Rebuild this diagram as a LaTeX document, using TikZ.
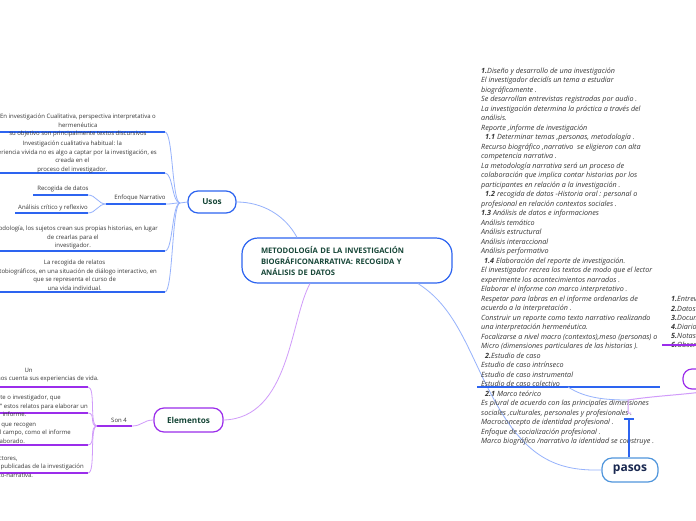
\documentclass[tikz,border=0pt]{standalone}
\usepackage{fontspec}
\setmainfont{Open Sans}
\usepackage{xcolor}
\usepackage{tikz}
\usetikzlibrary{positioning}
\definecolor{mmedge}{RGB}{45,100,240}
\definecolor{mmlink}{RGB}{150,178,252}
\definecolor{mmviolet}{RGB}{155,45,235}
\definecolor{mmlviolet}{RGB}{208,155,250}
\definecolor{mmhead}{RGB}{22,70,55}
\definecolor{mmtext}{RGB}{55,55,55}
\definecolor{mmstep}{RGB}{80,150,220}
\definecolor{mmnavy}{RGB}{25,40,80}
\tikzset{
  topic/.style={
    draw=mmedge, fill=white, line width=1.2pt, rounded corners=10pt,
    inner sep=0pt, text=mmhead, font=\fontsize{8.2}{10}\selectfont\bfseries
  },
  core/.style={
    topic, rounded corners=16pt, minimum width=210pt, minimum height=45pt,
    text width=172pt, align=left, font=\fontsize{7.6}{11}\selectfont\bfseries
  },
  leaf/.style={font=\fontsize{6}{8.5}\selectfont, text=mmtext, align=center, inner sep=0pt},
  notes/.style={font=\fontsize{7.2}{9.5}\selectfont\itshape, text=mmtext, align=left, inner sep=0pt},
  uline/.style={draw=mmedge, line width=1.4pt},
  vline/.style={draw=mmviolet, line width=1.4pt},
  link/.style={draw=mmlink, line width=0.8pt},
  vlink/.style={draw=mmlviolet, line width=0.8pt}
}
\begin{document}
\begin{tikzpicture}[x=1pt,y=-1pt]
  \useasboundingbox (0,0) rectangle (696,520);
  \fill[white] (0,0) rectangle (696,520);
  \clip (0,0) rectangle (696,520);

  % main topics
  \node[core] (core) at (347,260.5) {METODOLOGÍA DE LA INVESTIGACIÓN\\BIOGRÁFICONARRATIVA: RECOGIDA Y\\ANÁLISIS DE DATOS};
  \node[topic, minimum width=48pt, minimum height=22pt] (usos) at (212,202) {Usos};
  \node[topic, draw=mmviolet, minimum width=69pt, minimum height=24pt] (elem) at (188.5,420) {Elementos};
  \node[topic, draw=mmstep, text=mmnavy, minimum width=56pt, minimum height=24pt,
        font=\fontsize{12}{14}\selectfont\bfseries] (pasos) at (630,470) {pasos};
  \node[topic, draw=mmviolet, minimum width=60pt, minimum height=20pt, rounded corners=9pt] (tecn) at (713,379) {};

  \draw[link] ([xshift=-50pt]core.north) .. controls (285,215) and (262,202) .. (usos.east);
  \draw[vlink] ([xshift=-37pt]core.south) .. controls (290,320) and (290,418) .. (elem.east);
  \draw[link] ([xshift=71pt]core.south) .. controls (460,310) and (470,360) .. (500,410)
    .. controls (530,460) and (560,471) .. (pasos.west);

  % Usos
  \coordinate (ujn) at (180,203);
  \draw[link] (ujn) -- (usos.west);
  \foreach \n/\y in {u1/132,u2/173,u3/251,u4/292}{
    \coordinate (\n w) at (-5,\y);
    \coordinate (\n e) at (165,\y);
    \draw[uline] (\n w) -- (\n e);
    \draw[link] (\n e) .. controls +(8,0) and +(-8,0) .. (ujn);
  }
  \node[leaf, anchor=north east] (u1) at (156,114) {En investigación Cualitativa, perspectiva interpretativa o\\hermenéutica\\su objetivo son principalmente textos discursivos};
  \node[leaf, anchor=north east] (u2) at (157,141) {Investigación cualitativa habitual: la\\experiencia vivida no es algo a captar por la investigación, es\\creada en el\\proceso del investigador.};
  \node[leaf, anchor=north east] (u3) at (158,226) {Metodología, los sujetos crean sus propias historias, en lugar\\de crearlas para el\\investigador.};
  \node[leaf, anchor=north east] (u4) at (157,260) {La recogida de relatos\\autobiográficos, en una situación de diálogo interactivo, en\\que se representa el curso de\\una vida individual.};

  % Enfoque Narrativo
  \coordinate (ejn) at (106,204);
  \coordinate (ee) at (166,204);
  \draw[uline] (ejn) -- (ee);
  \draw[link] (ee) .. controls +(8,0) and +(-8,0) .. (ujn);
  \node[leaf] (enf) at (140,198) {Enfoque Narrativo};
  \coordinate (r1w) at (33,195);
  \coordinate (r1e) at (88,195);
  \coordinate (r2w) at (15,213);
  \coordinate (r2e) at (88,213);
  \draw[uline] (r1w) -- (r1e);
  \draw[uline] (r2w) -- (r2e);
  \draw[link] (r1e) .. controls +(8,0) and +(-8,0) .. (ejn);
  \draw[link] (r2e) .. controls +(8,0) and +(-8,0) .. (ejn);
  \node[leaf] (rec) at (63,189) {Recogida de datos};
  \node[leaf] (ana) at (53,208) {Análisis crítico y reflexivo};

  % Elementos
  \coordinate (sjn) at (97,426);
  \coordinate (se) at (132,426);
  \draw[vline] (sjn) -- (se);
  \draw[vlink] (se) .. controls +(10,0) and +(-10,0) .. (elem.west);
  \node[leaf] (son) at (119,420) {Son 4};
  \foreach \n/\y in {e1/387,e2/413,e3/445,e4/473}{
    \coordinate (\n w) at (-5,\y);
    \coordinate (\n e) at (88,\y);
    \draw[vline] (\n w) -- (\n e);
    \draw[vlink] (\n e) .. controls +(8,0) and +(-8,0) .. (sjn);
  }
  \node[leaf, anchor=north east] (e1) at (99,368) {Un\\narrador que nos cuenta sus experiencias de vida.};
  \node[leaf, anchor=north east] (e2) at (88,395) {Un intérprete o investigador, que\\escucha e “interpreta” estos relatos para elaborar un\\informe.};
  \node[leaf, anchor=north east] (e3) at (71,422) {Datos que recogen\\lo que ocurre en el campo, como el informe\\elaborado.};
  \node[leaf, anchor=north east] (e4) at (84,456) {Lectores,\\quienes leen las versiones publicadas de la investigación\\biográfico-narrativa.};

  % pasos
  \node[notes, anchor=north west] (plan) at (481,67.5) {\textbf{1.}Diseño y desarrollo de una investigación\\
El investigador decidís un tema a estudiar\\
biográficamente .\\
Se desarrollan entrevistas registradas por audio .\\
La investigación determina la práctica a través del\\
análisis.\\
Reporte ,informe de investigación\\
\hspace*{4pt}\textbf{1.1} Determinar temas ,personas, metodología .\\
Recurso biográfico ,narrativo\ \ se eligieron con alta\\
competencia narrativa .\\
La metodología narrativa será un proceso de\\
colaboración que implica contar historias por los\\
participantes en relación a la investigación .\\
\hspace*{4pt}\textbf{1.2} recogida de datos -Historia oral : personal o\\
profesional en relación contextos sociales .\\
\textbf{1.3} Análisis de datos e informaciones\\
Análisis temático\\
Análisis estructural\\
Análisis interaccional\\
Análisis performativo\\
\hspace*{3pt}\textbf{1.4} Elaboración del reporte de investigación.\\
El investigador recrea los textos de modo que el lector\\
experimente los acontecimientos narrados .\\
Elaborar el informe con marco interpretativo .\\
Respetar para labras en el informe ordenarlas de\\
acuerdo a la interpretación .\\
Construir un reporte como texto narrativo realizando\\
una interpretación hermenéutica.\\
Focalizarse a nivel macro (contextos),meso (personas) o\\
Micro (dimensiones particulares de las historias ).\\
\hspace*{4pt}\textbf{2.}Estudio de caso\\
Estudio de caso intrínseco\\
Estudio de caso instrumental\\
Estudio de caso colectivo\\
\hspace*{4pt}\textbf{2.1} Marco teórico\\
Es plural de acuerdo con las principales dimensiones\\
sociales ,culturales, personales y profesionales .\\
Macroconcepto de identidad profesional .\\
Enfoque de socialización profesional .\\
Marco biográfico /narrativo la identidad se construye .};
  \coordinate (pw) at (477,387);
  \coordinate (pe) at (660,387);
  \coordinate (pm) at (568,387);
  \coordinate (pj) at (628,400);
  \coordinate (pf) at (628,413);
  \draw[uline] (pw) -- (pe);
  \draw[link] (pm) .. controls (585,398) and (605,400) .. (pj);
  \draw[vlink, line width=1pt] (tecn.south) .. controls (700,394) and (660,395) .. (pj) -- (pf) -- ++(3,0);
  \coordinate (pt) at (629,419);
  \draw[uline, line width=1.2pt] ([xshift=-1pt]pasos.north) -- (pt);
  \draw[uline, line width=1.2pt] ([xshift=-5pt]pt) -- ([xshift=5pt]pt);

  % right list
  \node[notes, anchor=north west, font=\fontsize{7.2}{9.2}\selectfont\itshape] (tlist) at (671,296.5)
    {\textbf{1.}Entrevistas\\\textbf{2.}Datos biográficos\\\textbf{3.}Documentos\\\textbf{4.}Diarios\\\textbf{5.}Notas de campo\\\textbf{6.}Observación};
  \coordinate (lw) at (662,345);
  \coordinate (le) at (700,345);
  \draw[vline] (lw) -- (le);
\end{tikzpicture}
\end{document}
